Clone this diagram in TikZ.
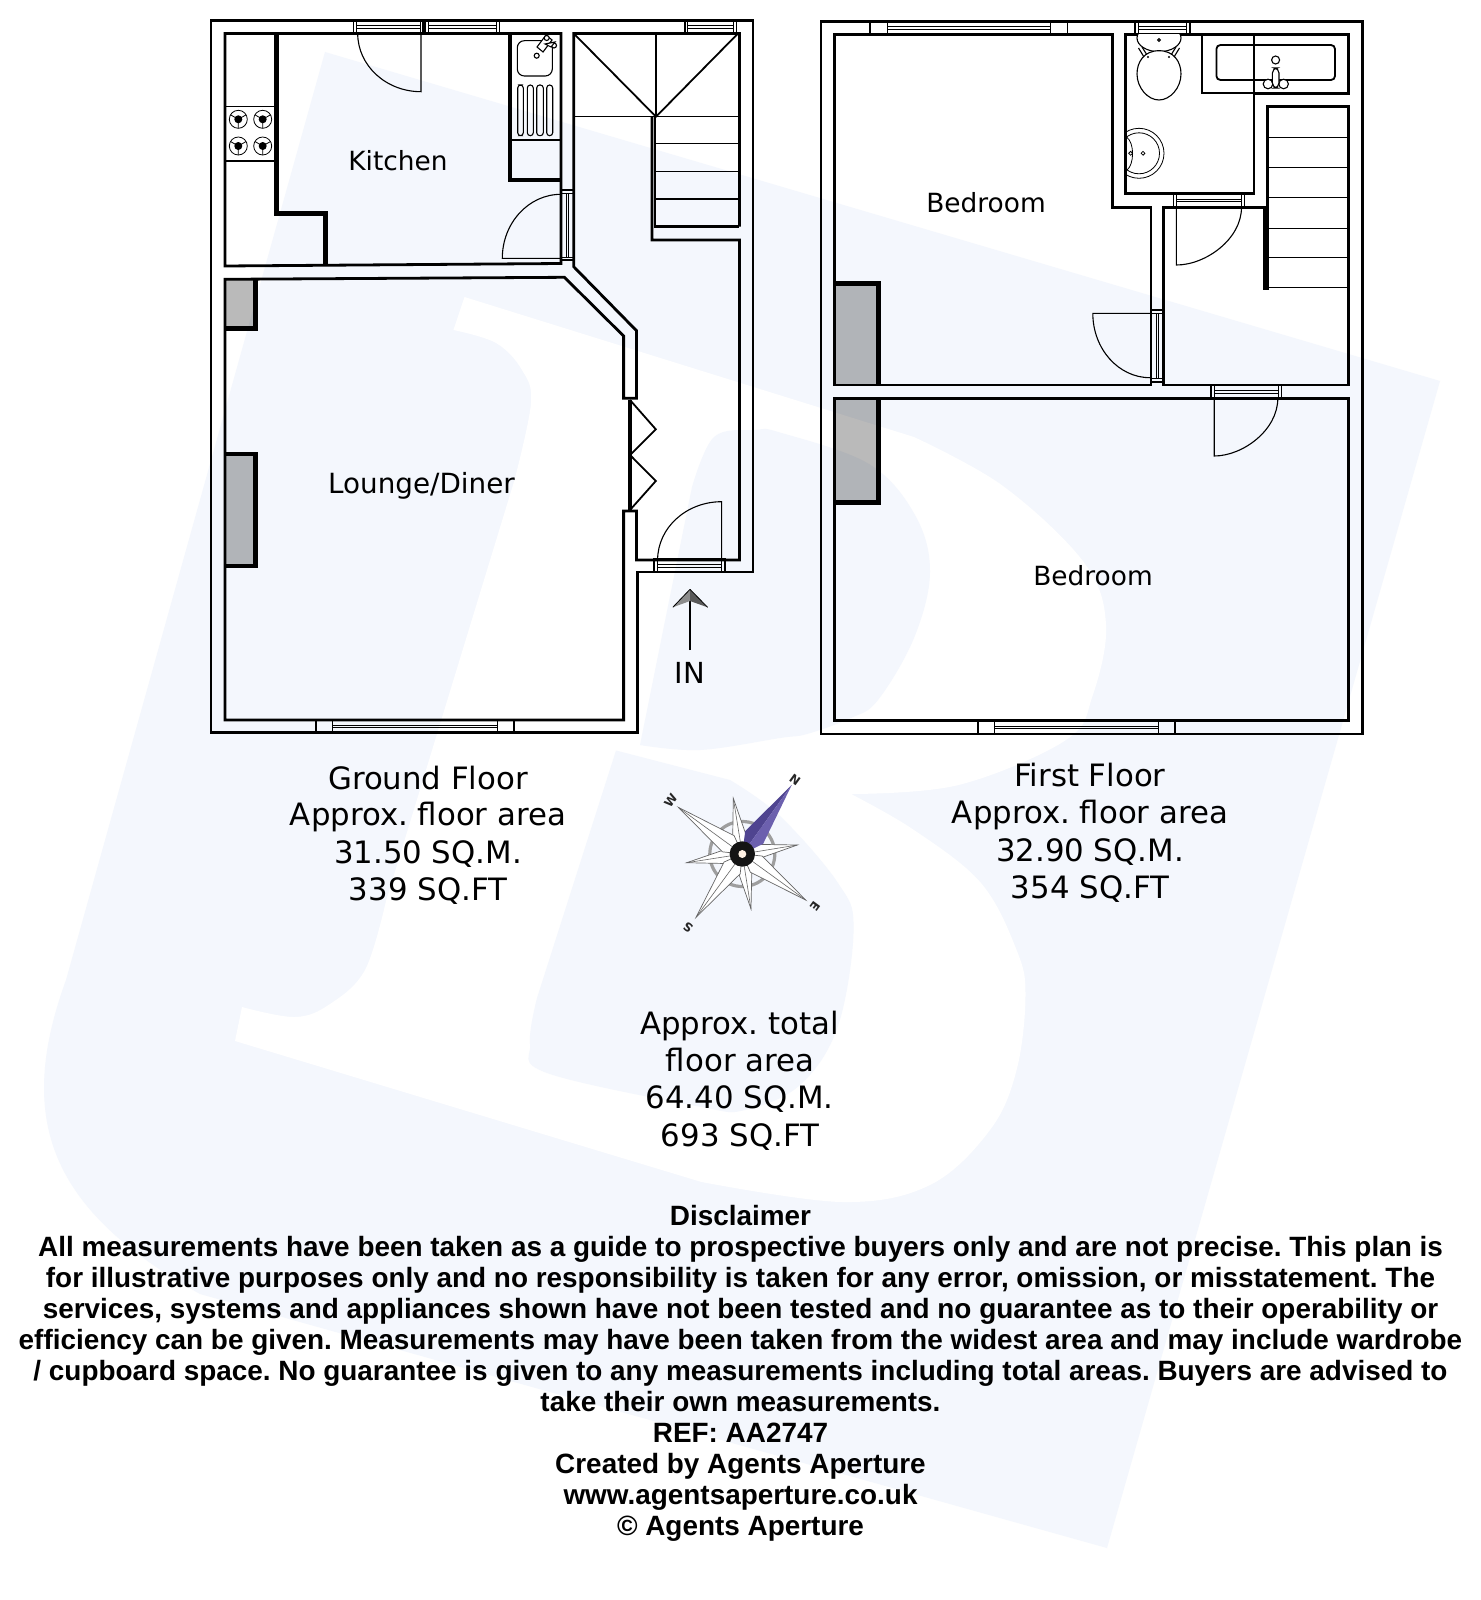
\documentclass[tikz,border=0pt]{standalone}
\usepackage{fontspec}
\usetikzlibrary{calc}
\newfontfamily\planfont{DejaVu Sans}
\newfontfamily\discfont{Liberation Sans}[BoldFont={Liberation Sans Bold}]
\definecolor{wm}{HTML}{F4F7FD}
\definecolor{needledark}{HTML}{4F4490}
\definecolor{needlelight}{HTML}{6C60AE}
\frenchspacing
\tikzset{
  wallline/.style={line width=1.4pt,black,line join=miter},
  heavyline/.style={line width=2.4pt,black,line join=miter},
  midline/.style={line width=0.9pt,black},
  thinline/.style={line width=0.55pt,black},
  hairline/.style={line width=0.4pt,black},
  chimney/.style={fill=black,fill opacity=0.27,draw=none},
  room/.style={font=\planfont\fontsize{13.2}{16}\selectfont,anchor=base,inner sep=0pt,text=black},
  areatext/.style={font=\planfont\fontsize{15.4}{18}\selectfont,anchor=base,inner sep=0pt,text=black},
  disc/.style={font=\discfont\bfseries\fontsize{13.95}{16}\selectfont,anchor=base,inner sep=0pt},
  compassletter/.style={font=\planfont\bfseries\fontsize{6}{7}\selectfont,inner sep=0pt,text=black!85},
  starpoint/.style={draw=black!60,line width=0.35pt,fill=white},
}
\newcommand{\winH}[5]{% x1 x2 y1 y2 inset
  \draw[midline] (#1,#3) rectangle (#2,#4);
  \pgfmathsetmacro{\ya}{(#3+#4)/2-1.3}\pgfmathsetmacro{\yb}{(#3+#4)/2+1.3}
  \pgfmathsetmacro{\xa}{#1+#5}\pgfmathsetmacro{\xb}{#2-#5}
  \draw[hairline] (\xa,#3) -- (\xa,#4) (\xb,#3) -- (\xb,#4) (\xa,\ya) -- (\xb,\ya) (\xa,\yb) -- (\xb,\yb);
}
\newcommand{\winV}[5]{% y1 y2 x1 x2 inset
  \draw[midline] (#3,#1) rectangle (#4,#2);
  \pgfmathsetmacro{\xa}{(#3+#4)/2-1.3}\pgfmathsetmacro{\xb}{(#3+#4)/2+1.3}
  \pgfmathsetmacro{\ya}{#1+#5}\pgfmathsetmacro{\yb}{#2-#5}
  \draw[hairline] (#3,\ya) -- (#4,\ya) (#3,\yb) -- (#4,\yb) (\xa,\ya) -- (\xa,\yb) (\xb,\ya) -- (\xb,\yb);
}
\newcommand{\burner}[2]{%
  \draw[hairline] (#1,#2) circle[radius=9];
  \fill (#1,#2) circle[radius=4];
  \draw[hairline] (#1,#2) -- ++(0,9) (#1,#2) -- ++(7.8,-4.5) (#1,#2) -- ++(-7.8,-4.5);
}
\newcommand{\starpt}[3]{% tip, base ratio, half width
  \coordinate (tip) at (#1);
  \draw[starpoint] (tip) -- ($(cc)!#2!(tip)!#3pt!90:(tip)$) -- (cc) -- ($(cc)!#2!(tip)!#3pt!-90:(tip)$) -- cycle;
  \draw[black!60,line width=0.3pt] (cc) -- (tip);
}
\begin{document}
\begin{tikzpicture}[x=0.5pt,y=-0.5pt]
\useasboundingbox (0,0) rectangle (1481,1600);
\fill[white] (0,0) rectangle (1481,1600);
% ---------- watermark
\begin{scope}
\clip (0,0) rectangle (1481,1600);
\fill[wm] (325,52) -- (1440,381) -- (1107,1548) -- (200,1294)
  .. controls (50,1210) and (15,1120) .. (66,980) -- cycle;
\fill[white] (464.5,297) -- (914,437)
  -- plot[smooth,tension=.6] coordinates {(914,437) (1003,486) (1083.6,562) (1106,624.5) (1092.5,696) (1066,740) (958.6,785) (851,794)}
  -- plot[smooth,tension=.6] coordinates {(851,794) (914,830) (981,883) (1016.6,950) (1025.5,995) (1016.6,1070) (990,1130) (930,1185) (842,1202) (701.5,1182)}
  -- (235,1041) -- (242,1007)
  -- plot[smooth,tension=.6] coordinates {(242,1007) (295,1017) (330,1004) (365,970) (386,901)}
  -- (514.5,480)
  -- plot[smooth,tension=.6] coordinates {(514.5,480) (531,403) (522,370) (496,343) (453.4,330)} -- cycle;
\fill[wm] (640,745) -- (692,487)
  -- plot[smooth,tension=.6] coordinates {(692,487) (714,437) (755,430) (780,432.5) (869,464) (915,515) (930,572) (914,638) (878,700) (851,718) (807,734) (780,738) (700,750) (640,745)} -- cycle;
\fill[wm] (616,750.5) -- (730,780)
  -- plot[smooth,tension=.6] coordinates {(730,780) (780,816) (838,883) (853.6,928) (838,1026) (800,1085) (745,1110) (701.5,1107) (547,1073) (530,1044) (537,998)} -- cycle;
\end{scope}
% ---------- chimneys
\fill[chimney] (225,279.3) rectangle (255.5,328.3);
\fill[chimney] (225,454) rectangle (255.5,566);
\fill[chimney] (834.4,283.3) rectangle (878.3,385);
\fill[chimney] (834.4,398.3) rectangle (878.3,502.7);
\draw[heavyline] (225,328.3) -- (255.5,328.3) -- (255.5,279.3);
\draw[heavyline] (225,454) -- (255.5,454) -- (255.5,566) -- (225,566);
\draw[heavyline] (834.4,283.3) -- (878.3,283.3) -- (878.3,385);
\draw[heavyline] (878.3,398.3) -- (878.3,502.7) -- (834.4,502.7);
% ---------- ground floor walls
\draw[wallline] (211,20.5) -- (753,20.5) -- (753,572) -- (637.3,572) -- (637.3,732.7) -- (211,732.7) -- cycle;
\draw[wallline] (225,33.5) -- (561,33.5) -- (561,263.5) -- (225,266) -- cycle;
\draw[heavyline] (276.7,33.5) -- (276.7,213.3) -- (325.7,213.3) -- (325.7,265);
\draw[heavyline] (510,33.5) -- (510,180) -- (561,180);
\draw[wallline] (739.4,226.7) -- (739.4,33.5) -- (573.7,33.5) -- (573.7,266.7) -- (636.5,330.7) -- (636.5,398.3) -- (623.6,398.3) -- (623.6,336) -- (564.4,277.3) -- (225,279.3) -- (225,720) -- (623.6,720) -- (623.6,511) -- (636.5,511) -- (636.5,560) -- (739.4,560) -- (739.4,240) -- (652,240) -- (652,116.7);
\draw[wallline] (655,116.7) -- (655,226.7) -- (739.4,226.7);
% stairs
\draw[midline] (573.7,33.5) -- (656,116.7) -- (738,33.5);
\draw[thinline] (656,33.5) -- (656,116.7);
\draw[thinline] (573.7,116.7) -- (738,116.7);
\draw[thinline] (655,143.3) -- (738,143.3) (655,171.3) -- (738,171.3) (655,199) -- (738,199);
% cooker and sink
\draw[thinline] (225,106.7) -- (276.7,106.7) (225,161) -- (276.7,161);
\burner{238.3}{119.3}\burner{262.7}{119.3}\burner{238.3}{146}\burner{262.7}{146}
\draw[thinline,rounded corners=3.5] (517.3,40.7) rectangle (552.3,76);
\draw[thinline] (536.7,55.7) circle[radius=2.5];
\draw[thinline,fill=white] (546,35) -- (552,40) -- (543,52) -- (537,47) -- cycle;
\draw[thinline,fill=white] (546.7,38) circle[radius=2.5] (554,45.5) circle[radius=2.5];
\draw[thinline,fill=white] (545,44) -- (555,42) -- (551,47) -- cycle;
\draw[thinline,rounded corners=1.5] (517.7,85) rectangle (523.3,135.7);
\draw[thinline,rounded corners=1.5] (527.3,85) rectangle (533.3,135.7);
\draw[thinline,rounded corners=1.5] (536.7,85) rectangle (543.3,135.7);
\draw[thinline,rounded corners=1.5] (546.7,85) rectangle (552.7,135.7);
\draw[thinline] (510,140) -- (561,140);
% ground windows and doors
\winH{353.5}{423}{20.5}{33.5}{3}
\winH{425}{499.5}{20.5}{33.5}{3}
\winH{684.6}{736.5}{20.5}{33.5}{3}
\winH{315.8}{513.7}{720}{732.7}{16.5}
\winH{654.3}{724.6}{559.3}{572.3}{3}
\winV{190}{260}{561}{573.7}{3}
\draw[thinline] (357.7,33.5) .. controls (357.7,65.6) and (386.1,91.7) .. (421,91.7) -- (421,33.5);
\draw[thinline] (561,194.3) .. controls (528.6,194.3) and (502.3,223) .. (502.3,258.3) -- (561,258.3);
\draw[thinline] (657.6,560) .. controls (657.6,527.8) and (686.3,501.7) .. (721.6,501.7) -- (721.6,560);
\draw[heavyline] (630,400) -- (630,510);
\draw[midline] (630,400) -- (655.8,429.3) -- (630,455) -- (655.8,481) -- (630,510);
% entrance arrow
\coordinate (arrowfoot) at (690,650);
\coordinate (arrowtip) at (690,589.3);
\coordinate (arrownotch) at (690,601);
\draw[line width=0.9pt] (arrowfoot) -- (arrownotch);
\fill[black!45] (arrowtip) -- (672.8,607.3) -- (arrownotch) -- cycle;
\fill[black!65] (arrowtip) -- (707.6,607.3) -- (arrownotch) -- cycle;
\draw[hairline] (arrowtip) -- (672.8,607.3) (arrowtip) -- (707.6,607.3);
% ---------- first floor walls
\draw[wallline] (821,21.7) rectangle (1362.5,734);
\draw[wallline] (834.4,34.3) -- (1112.4,34.3) -- (1112.4,207.3) -- (1151,207.3) -- (1151,385) -- (834.4,385) -- cycle;
\draw[wallline] (1125.5,34.3) rectangle (1254,193.3);
\draw[wallline] (1201.9,34.3) -- (1348.7,34.3) -- (1348.7,93.3) -- (1254,93.3);
\draw[midline] (1201.9,34.3) -- (1201.9,93.3) -- (1254,93.3);
\draw[wallline] (1264.4,288.3) -- (1264.4,207.3) -- (1163.7,207.3) -- (1163.7,385) -- (1348.7,385) -- (1348.7,106.7) -- (1267.3,106.7) -- (1267.3,288.3) -- cycle;
\draw[thinline] (1267.3,137.3) -- (1348.7,137.3) (1267.3,167.3) -- (1348.7,167.3) (1267.3,197.7) -- (1348.7,197.7) (1267.3,228.3) -- (1348.7,228.3) (1267.3,257.7) -- (1348.7,257.7) (1267.3,287.7) -- (1348.7,287.7);
\draw[wallline] (834.4,398.3) rectangle (1348.7,720.7);
% first floor windows and doors
\winH{870}{1067.4}{21.7}{34.3}{17}
\winH{1134.6}{1190}{21.7}{34.3}{4}
\winH{1173.5}{1244.4}{193.3}{207.3}{3}
\winH{1211}{1281.5}{385}{398.3}{3}
\winH{978.3}{1175.3}{720.7}{734}{16.5}
\winV{310}{381.7}{1151}{1163.7}{3}
\draw[thinline] (1241.5,207.3) .. controls (1241.5,239.2) and (1205.6,265) .. (1176.4,265) -- (1176.4,207.3);
\draw[thinline] (1151,313.3) -- (1092.8,313.3) .. controls (1092.8,348.8) and (1118.4,377.7) .. (1150,377.7);
\draw[thinline] (1277.8,398.3) .. controls (1277.8,430.2) and (1242.7,456) .. (1214.2,456) -- (1214.2,398.3);
% bath
\draw[midline,rounded corners=2] (1216.4,45) rectangle (1335,80);
\draw[thinline] (1275.6,60) circle[radius=4];
\draw[thinline,fill=white] (1268,84) circle[radius=4.8] (1283.6,84) circle[radius=4.8];
\draw[thinline,fill=white,rounded corners=2.5] (1272.4,68) rectangle (1279,88);
% toilet
\begin{scope}
\clip (1125.5,34.3) rectangle (1254,193.3);
\draw[thinline] (1138.5,48) -- (1144,57) (1142,47) -- (1147,55) (1179.5,48) -- (1174,57) (1176,47) -- (1171,55);
\draw[thinline,fill=white] (1159,38) ellipse[x radius=22,y radius=13.7];
\draw[thinline,fill=white] (1159,50.7) .. controls (1174,50.7) and (1181,62) .. (1181,74) .. controls (1181,88) and (1170,100) .. (1159,100) .. controls (1148,100) and (1137,88) .. (1137,74) .. controls (1137,62) and (1144,50.7) .. (1159,50.7) -- cycle;
\fill (1148,57) circle[radius=1.1] (1169,57) circle[radius=1.1];
\draw[thinline] (1159,40) circle[radius=1.4];
% basin
\draw[hairline] (1139,153.3) circle[radius=25];
\draw[hairline] (1139,153.3) circle[radius=20.5];
\draw[hairline] (1126.5,137) .. controls (1135,143) and (1134,165) .. (1127,170);
\draw[hairline] (1130.6,153.3) circle[radius=1.9];
\draw[hairline] (1143,153.3) circle[radius=1.9];
\end{scope}
% ---------- compass
\coordinate (cc) at (742.3,854);
\draw[black!38,line width=1.6pt] (cc) circle[radius=32.5];
\starpt{733.3,798.3}{0.3}{3.5}
\starpt{797.3,845}{0.3}{3.5}
\starpt{751,909}{0.3}{3.5}
\starpt{686.7,862.7}{0.3}{3.5}
\starpt{678.3,807.3}{0.22}{5}
\starpt{805.7,900}{0.22}{5}
\starpt{696,917.3}{0.22}{5}
\coordinate (ntip) at (791.7,785);
\fill[needledark] (ntip) -- ($(cc)!0.24!(ntip)!5.5pt!90:(ntip)$) -- (cc) -- cycle;
\fill[needlelight] (ntip) -- ($(cc)!0.24!(ntip)!5.5pt!-90:(ntip)$) -- (cc) -- cycle;
\fill[black!92] (cc) circle[radius=12.7];
\fill[orange!10!white] (cc) circle[radius=4];
\node[compassletter,rotate=-36] (cN) at (795,780) {N};
\node[compassletter,rotate=54] (cW) at (670.7,801) {W};
\node[compassletter,rotate=-126] (cE) at (815,906.7) {E};
\node[compassletter,rotate=144] (cS) at (688,927) {S};
% ---------- labels
\node[room] (kitchen) at (398,170) {Kitchen};
\node[room,font=\planfont\fontsize{13.9}{16}\selectfont] (lounge) at (421.5,493) {Lounge/Diner};
\node[room] (bedone) at (986,212.3) {Bedroom};
\node[room] (bedtwo) at (1093,585) {Bedroom};
\node[areatext,font=\planfont\fontsize{14.5}{18}\selectfont] (inlabel) at (690,683.3) {IN};
\node[areatext] (g1) at (428,789) {Ground Floor};
\node[areatext] (g2) at (428,825.5) {Approx. floor area};
\node[areatext] (g3) at (428,863) {31.50 SQ.M.};
\node[areatext] (g4) at (428,900.5) {339 SQ.FT};
\node[areatext] (f1) at (1090,786) {First Floor};
\node[areatext] (f2) at (1090,823) {Approx. floor area};
\node[areatext] (f3) at (1090,861) {32.90 SQ.M.};
\node[areatext] (f4) at (1090,898) {354 SQ.FT};
\node[areatext] (t1) at (739.5,1034.5) {Approx. total};
\node[areatext] (t2) at (740,1071) {floor area};
\node[areatext] (t3) at (739.5,1108.7) {64.40 SQ.M.};
\node[areatext] (t4) at (740,1146) {693 SQ.FT};
\node[disc] (d0) at (740.5,1225) {Disclaimer};
\node[disc] (d1) at (740.5,1256) {All measurements have been taken as a guide to prospective buyers only and are not precise. This plan is};
\node[disc] (d2) at (740.5,1287) {for illustrative purposes only and no responsibility is taken for any error, omission, or misstatement. The};
\node[disc] (d3) at (740.5,1318) {services, systems and appliances shown have not been tested and no guarantee as to their operability or};
\node[disc] (d4) at (740.5,1349) {efficiency can be given. Measurements may have been taken from the widest area and may include wardrobe};
\node[disc] (d5) at (740.5,1380) {/ cupboard space. No guarantee is given to any measurements including total areas. Buyers are advised to};
\node[disc] (d6) at (740.5,1411) {take their own measurements.};
\node[disc] (d7) at (740.5,1442) {REF: AA2747};
\node[disc] (d8) at (740.5,1473) {Created by Agents Aperture};
\node[disc] (d9) at (740.5,1504) {www.agentsaperture.co.uk};
\node[disc] (d10) at (740.5,1535) {© Agents Aperture};
\end{tikzpicture}
\end{document}
